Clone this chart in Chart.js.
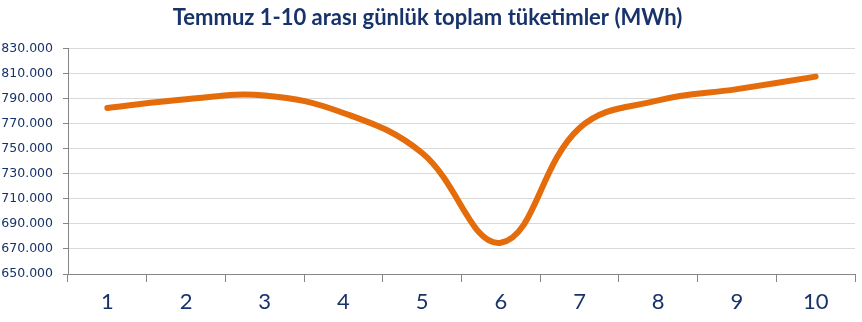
<!DOCTYPE html>
<html>
<head>
<meta charset="utf-8">
<script src="https://cdn.jsdelivr.net/npm/chart.js@4/dist/chart.umd.min.js"></script>
<style>
  html, body { margin: 0; padding: 0; background: #fff; }
  #wrap { width: 862px; height: 322px; }
</style>
</head>
<body>
<div id="wrap"><canvas id="chart"></canvas></div>
<script>
// Temmuz 1-10 günlük toplam tüketim (MWh)
const days = ['1', '2', '3', '4', '5', '6', '7', '8', '9', '10'];
const consumption = [782500, 789500, 792500, 778500, 746500, 675000, 766500, 788500, 797500, 807500];
const yTicks = [650000, 670000, 690000, 710000, 730000, 750000, 770000, 790000, 810000, 830000];

const navy = '#17336A';

// 830000 -> "830.000"
function formatNumber(v) {
    return String(v).replace(/\B(?=(\d{3})+(?!\d))/g, '.');
}

const ctx = document.getElementById('chart').getContext('2d');
new Chart(ctx, {
    type: 'line',
    data: {
        labels: days,
        datasets: [{
            data: consumption,
            borderColor: '#E46C0A',
            borderWidth: 6,
            borderCapStyle: 'round',
            borderJoinStyle: 'round',
            pointRadius: 0,
            tension: 0.4,
            fill: false
        }]
    },
    options: {
        responsive: true,
        maintainAspectRatio: false,
        animation: false,
        layout: { padding: { left: 0, right: 7, top: 0, bottom: 0 } },
        plugins: {
            legend: { display: false },
            tooltip: { enabled: false },
            title: {
                display: true,
                text: 'Temmuz 1-10 arası günlük toplam tüketimler (MWh)',
                color: navy,
                font: { family: 'Lato', size: 22, weight: 'bold', lineHeight: 1.2 },
                padding: { top: 5, bottom: 17 }
            }
        },
        scales: {
            x: {
                offset: true,
                grid: {
                    offset: true,
                    drawOnChartArea: false,
                    tickLength: 8,
                    tickColor: '#868686'
                },
                border: { color: '#868686', width: 1 },
                ticks: {
                    color: navy,
                    font: { family: 'Lato', size: 22 },
                    padding: 7
                },
                afterFit: scale => { scale.height = 48; }
            },
            y: {
                min: yTicks[0],
                max: yTicks[yTicks.length - 1],
                afterBuildTicks: scale => {
                    scale.ticks = yTicks.map(v => ({ value: v }));
                },
                grid: {
                    color: '#D9D9D9',
                    tickColor: '#868686',
                    tickLength: 5
                },
                border: { color: '#868686', width: 1 },
                ticks: {
                    color: navy,
                    font: { family: 'DejaVu Sans', size: 12.5 },
                    padding: 10,
                    callback: v => formatNumber(v)
                },
                afterFit: scale => { scale.width = 68; }
            }
        }
    }
});
</script>
</body>
</html>
